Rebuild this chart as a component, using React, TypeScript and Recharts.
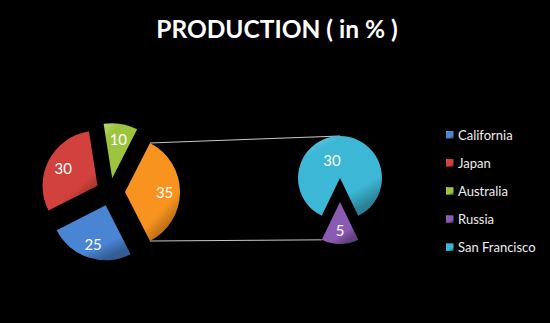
import { PieChart, Pie, Cell, Customized } from 'recharts';

const W = 550;
const H = 323;
const RAD = Math.PI / 180;
const FONT = 'Lato, "Open Sans", sans-serif';

const TITLE = 'PRODUCTION ( in % )';

// Main pie – the last slice is the one broken out into the small pie
const mainNames = ['California', 'Japan', 'Australia', 'Other'];
const mainValues = [25, 30, 10, 35];
const mainColors = ['#4a85d4', '#d2413d', '#9dc43f', '#f7931e'];

// Breakdown of the "Other" slice
const subNames = ['Russia', 'San Francisco'];
const subValues = [5, 30];
const subColors = ['#8b5bb3', '#3db7d6'];

const legendNames = ['California', 'Japan', 'Australia', 'Russia', 'San Francisco'];

const MAIN = { cx: 110, cy: 192, r: 55, explode: [14, 14, 14, 15], labelAt: [0.74, 0.7, 0.72, 0.72] };
const SUB = { cx: 340, cy: 178, r: 42, explode: [24, 0], labelAt: [0.66, 0.42] };

const sum = (a: number[]) => a.reduce((s, v) => s + v, 0);

// Other slice centred on 3 o'clock, going clockwise
const mainEnd = -(mainValues[3] / sum(mainValues)) * 180;
const mainStart = mainEnd + 360;
// Russia centred on 6 o'clock, counter-clockwise
const subStart = 270 - (subValues[0] / sum(subValues)) * 180;
const subEnd = subStart + 360;

const mainData = mainNames.map((name, i) => ({ name, value: mainValues[i], color: mainColors[i] }));
const subData = subNames.map((name, i) => ({ name, value: subValues[i], color: subColors[i] }));

const colorOf = (name: string) =>
  mainData.find((d) => d.name === name)?.color ?? subData.find((d) => d.name === name)?.color ?? '#888';

function midAngles(values: number[], start: number, end: number) {
  const total = sum(values);
  let acc = 0;
  return values.map((v) => {
    const m = start + ((end - start) * (acc + v / 2)) / total;
    acc += v;
    return m;
  });
}

function offsets(values: number[], start: number, end: number, dist: number[]) {
  return midAngles(values, start, end).map((m, i) => ({
    dx: dist[i] * Math.cos(m * RAD),
    dy: -dist[i] * Math.sin(m * RAD),
  }));
}

const mainOff = offsets(mainValues, mainStart, mainEnd, MAIN.explode);
const subOff = offsets(subValues, subStart, subEnd, SUB.explode);

const gradId = (c: string) => `g${c.slice(1)}`;

function shade(hex: string, amt: number) {
  const n = parseInt(hex.slice(1), 16);
  const mix = (c: number) => Math.round(amt >= 0 ? c + (255 - c) * amt : c * (1 + amt));
  const r = mix((n >> 16) & 255);
  const g = mix((n >> 8) & 255);
  const b = mix(n & 255);
  return `rgb(${r},${g},${b})`;
}

const makeLabel = (only: number, frac: number, dx = 0) => (p: any) => {
  if (p.index !== only) return null;
  const a = -p.midAngle * RAD;
  const x = p.cx + p.outerRadius * frac * Math.cos(a) + dx;
  const y = p.cy + p.outerRadius * frac * Math.sin(a);
  return (
    <text x={x} y={y} textAnchor="middle" dominantBaseline="central" fill="#fff" fontSize={15} fontFamily={FONT}>
      {p.value}
    </text>
  );
};

function Decor() {
  const other = mainOff[3];
  const ocx = MAIN.cx + other.dx;
  const ocy = MAIN.cy + other.dy;
  const top = { x: ocx + MAIN.r * Math.cos(-mainEnd * RAD), y: ocy - MAIN.r * Math.sin(-mainEnd * RAD) };
  const bot = { x: ocx + MAIN.r * Math.cos(mainEnd * RAD), y: ocy - MAIN.r * Math.sin(mainEnd * RAD) };
  const subTop = { x: SUB.cx + subOff[1].dx, y: SUB.cy + subOff[1].dy - SUB.r };
  const pcx = SUB.cx + subOff[0].dx;
  const pcy = SUB.cy + subOff[0].dy;
  const subBot = { x: pcx + SUB.r * Math.cos(subStart * RAD), y: pcy - SUB.r * Math.sin(subStart * RAD) };
  const allColors = [...mainColors, ...subColors];

  return (
    <g>
      <defs>
        {allColors.map((c) => (
          <linearGradient key={c} id={gradId(c)} x1="0" y1="0" x2="0.6" y2="1">
            <stop offset="0%" stopColor={shade(c, 0.3)} />
            <stop offset="25%" stopColor={c} />
            <stop offset="80%" stopColor={c} />
            <stop offset="100%" stopColor={shade(c, -0.3)} />
          </linearGradient>
        ))}
      </defs>
      <text x={277} y={38} textAnchor="middle" fill="#fff" fontSize={24.5} fontWeight="bold" fontFamily={FONT}>
        {TITLE}
      </text>
      <line x1={top.x} y1={top.y} x2={subTop.x} y2={subTop.y} stroke="#c8c8c8" strokeWidth={1} />
      <line x1={bot.x} y1={bot.y} x2={subBot.x} y2={subBot.y} stroke="#c8c8c8" strokeWidth={1} />
      {legendNames.map((name, i) => (
        <g key={name}>
          <rect x={446} y={131 + i * 28.1} width={7.5} height={7.5} fill={`url(#${gradId(colorOf(name))})`} />
          <text x={458} y={140 + i * 28.1} fill="#eee" fontSize={13} fontFamily={FONT}>
            {name}
          </text>
        </g>
      ))}
    </g>
  );
}

export default function App() {
  return (
    <div style={{ width: W, height: H, background: '#000' }}>
      <style>{'body{margin:0;background:#000}'}</style>
      <PieChart width={W} height={H} margin={{ top: 0, right: 0, bottom: 0, left: 0 }}>
        <Customized component={<Decor />} />
        {mainData.map((_, i) => (
          <Pie
            key={`main-${i}`}
            data={mainData}
            dataKey="value"
            cx={MAIN.cx + mainOff[i].dx}
            cy={MAIN.cy + mainOff[i].dy}
            outerRadius={MAIN.r}
            startAngle={mainStart}
            endAngle={mainEnd}
            stroke="none"
            labelLine={false}
            label={makeLabel(i, MAIN.labelAt[i])}
            isAnimationActive={false}
          >
            {mainData.map((d, j) => (
              <Cell key={d.name} fill={j === i ? `url(#${gradId(d.color)})` : 'transparent'} />
            ))}
          </Pie>
        ))}
        {subData.map((_, i) => (
          <Pie
            key={`sub-${i}`}
            data={subData}
            dataKey="value"
            cx={SUB.cx + subOff[i].dx}
            cy={SUB.cy + subOff[i].dy}
            outerRadius={SUB.r}
            startAngle={subStart}
            endAngle={subEnd}
            stroke="none"
            labelLine={false}
            label={makeLabel(i, SUB.labelAt[i], i === 1 ? -8 : 0)}
            isAnimationActive={false}
          >
            {subData.map((d, j) => (
              <Cell key={d.name} fill={j === i ? `url(#${gradId(d.color)})` : 'transparent'} />
            ))}
          </Pie>
        ))}
      </PieChart>
    </div>
  );
}
